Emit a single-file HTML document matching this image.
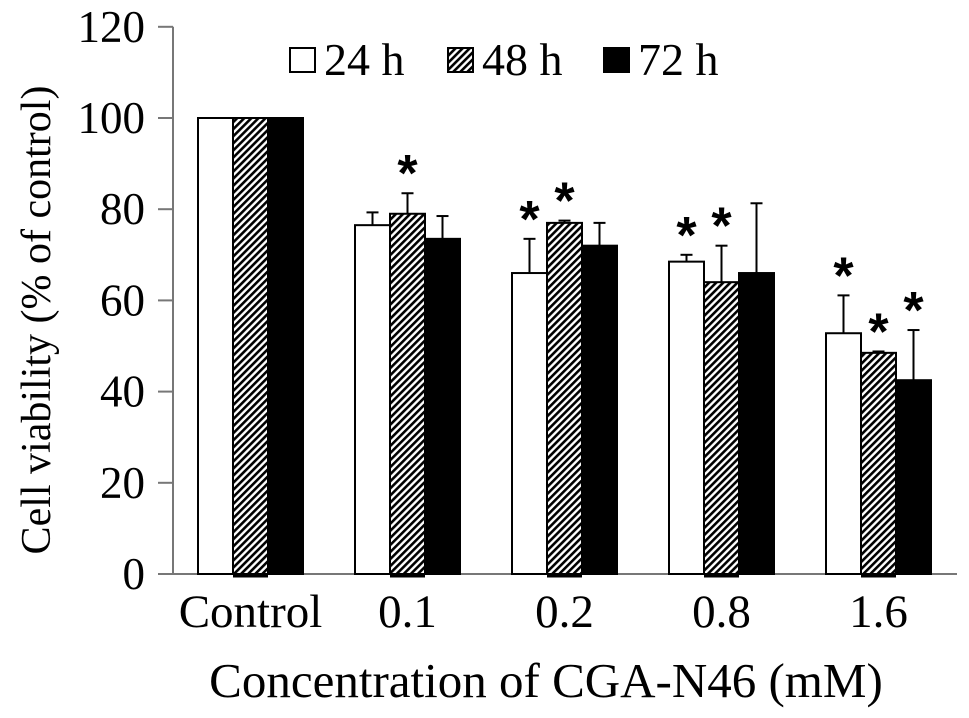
<!DOCTYPE html>
<html><head><meta charset="utf-8"><style>
body{margin:0;background:#fff}
svg{display:block;font-family:"Liberation Serif",serif}
</style></head><body>
<svg id="c" width="969" height="718">
<defs><pattern id="h" width="5" height="5" patternUnits="userSpaceOnUse" patternTransform="rotate(45)"><rect width="5" height="5" fill="#fff"/><rect width="2.6" height="5" fill="#000"/></pattern></defs>
</svg>
<script>
const categories=["Control","0.1","0.2","0.8","1.6"];
const series=["24 h","48 h","72 h"];
const v24=[100,76.5,66,68.5,52.8];
const v48=[100,79,77,64,48.5];
const v72=[100,73.5,72,66,42.5];
const e24=[0,2.8,7.5,1.5,8.3];
const e48=[0,4.5,0.5,8,0.3];
const e72=[0,5,5,15.3,11];
const sig24=[0,0,1,1,1];
const sig48=[0,1,1,1,1];
const sig72=[0,0,0,0,1];
const yTicks=[0,20,40,60,80,100,120];
const svg=document.getElementById('c');const NS='http://www.w3.org/2000/svg';
function mk(t,a,p){const e=document.createElementNS(NS,t);for(const k in a)e.setAttribute(k,a[k]);(p||svg).appendChild(e);return e;}
const y=v=>574-v*4.56, cx=i=>250.5+157*i, bw=35;
mk('line',{x1:173,y1:y(120),x2:173,y2:574,stroke:'#777','stroke-width':2,});
mk('line',{x1:158,y1:574,x2:957,y2:574,stroke:'#777','stroke-width':2,});
yTicks.forEach(t=>{mk('line',{x1:158,y1:y(t),x2:173,y2:y(t),stroke:'#777','stroke-width':2});
const l=mk('text',{x:145,y:y(t)+15,'text-anchor':'end','font-size':45});l.textContent=t;
});
const vals=[v24,v48,v72],errs=[e24,e48,e72],sigs=[sig24,sig48,sig72],fills=['#fff','url(#h)','#000'];
categories.forEach((c,i)=>{
 const lab=mk('text',{x:cx(i),y:627,'text-anchor':'middle','font-size':47});lab.textContent=c;
 
 for(let s=0;s<3;s++){const x0=cx(i)-52.5+s*bw,v=vals[s][i],top=y(v),et=y(v+errs[s][i]);
  if(errs[s][i]>0){mk('line',{x1:x0+bw/2,y1:top,x2:x0+bw/2,y2:et,stroke:'#000','stroke-width':2});
   mk('line',{x1:x0+bw/2-6,y1:et,x2:x0+bw/2+6,y2:et,stroke:'#000','stroke-width':2});}
  const r=mk('rect',{x:x0,y:top,width:bw,height:574-top,fill:fills[s],stroke:'#000','stroke-width':2});
  
  if(s==1)mk('line',{x1:x0,y1:576,x2:x0+bw,y2:576,stroke:'#000','stroke-width':3});
  if(sigs[s][i]){const a=mk('text',{x:x0+bw/2,y:et-2,'text-anchor':'middle','font-size':52,'font-weight':'bold','font-family':'Liberation Sans'});
   a.textContent='*';
   }
 }
});
const lx=[290,448,604];
series.forEach((s,k)=>{mk('rect',{x:lx[k],y:48,width:25,height:24,fill:fills[k],stroke:'#000','stroke-width':2,});
 const t=mk('text',{x:lx[k]+34,y:75,'font-size':46});t.textContent=s;});
const yt=mk('text',{x:0,y:0,'text-anchor':'middle','font-size':42,transform:'translate(50,320) rotate(-90)'});yt.textContent='Cell viability (% of control)';

const xt=mk('text',{x:546,y:697,'text-anchor':'middle','font-size':49});xt.textContent='Concentration of CGA-N46 (mM)';

</script>
</body></html>
